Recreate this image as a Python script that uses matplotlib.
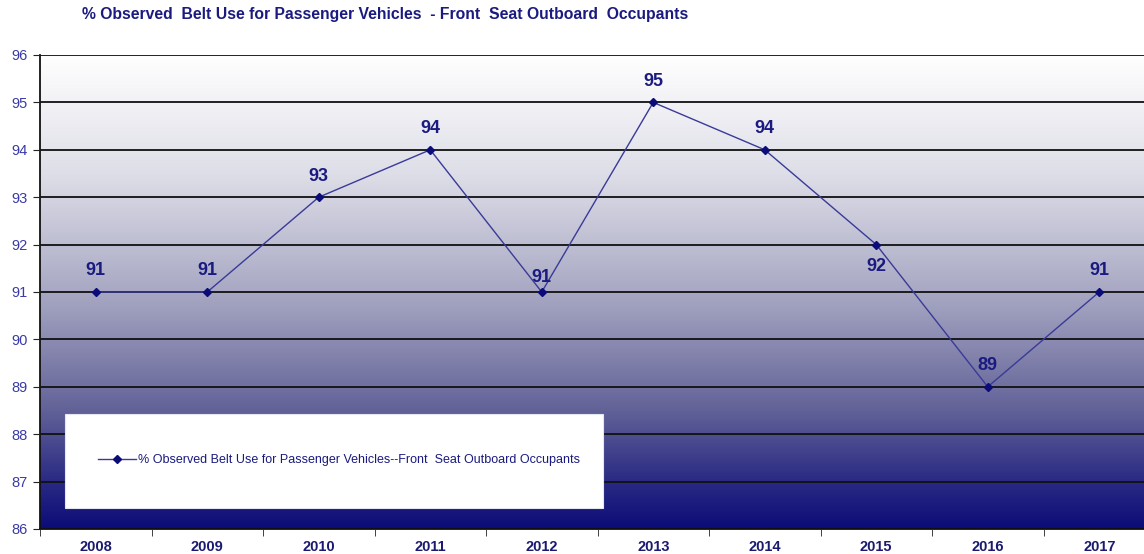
import numpy as np
import matplotlib
matplotlib.use("Agg")
import matplotlib.pyplot as plt
from matplotlib.colors import LinearSegmentedColormap
from matplotlib.patches import Rectangle

years = ["2008", "2009", "2010", "2011", "2012", "2013", "2014", "2015", "2016", "2017"]
belt_use = [91, 91, 93, 94, 91, 95, 94, 92, 89, 91]
label_below = ["2015"]

series_name = "% Observed Belt Use for Passenger Vehicles--Front  Seat Outboard Occupants"
title = "% Observed  Belt Use for Passenger Vehicles  - Front  Seat Outboard  Occupants"

NAVY = "#0c0c78"
LINE = "#3a3a98"

plt.rcParams['font.family'] = ['Liberation Sans', 'DejaVu Sans']

fig = plt.figure(figsize=(11.44, 5.54), dpi=100)
W, H = 1144, 554
ax = fig.add_axes([40 / W, (H - 529) / H, (1155 - 40) / W, (529 - 55) / H])

x = np.arange(len(years))
ax.set_xlim(-0.5, len(years) - 0.5)
ax.set_ylim(86, 96)

# gradient background: white at top -> navy at bottom
cmap = LinearSegmentedColormap.from_list(
    "bg", [(0, "#0c0c78"), (0.1, "#2a2a84"), (0.25, "#626298"), (0.5, "#a8a8c4"),
           (0.75, "#dedee8"), (1, "#ffffff")])
grad = np.linspace(0, 1, 256).reshape(-1, 1)
ax.imshow(grad, cmap=cmap, aspect="auto", origin="lower",
          extent=(-0.5, len(years) - 0.5, 86, 96), zorder=0)

ax.set_yticks(np.arange(86, 97, 1))
ax.yaxis.grid(True, color="#111111", linewidth=1.3, zorder=1)
ax.set_axisbelow(False)

line, = ax.plot(x, belt_use, color=LINE, linewidth=1.0, marker="D", markersize=4,
                markerfacecolor=NAVY, markeredgecolor=NAVY, zorder=3, label=series_name)

# data labels
for xi, yr, v in zip(x, years, belt_use):
    if yr in label_below:
        off = -22
    elif yr == "2012":
        off = 14
    else:
        off = 21
    ax.annotate(str(v), (xi, v), xytext=(0, off), textcoords="offset pixels",
                ha="center", va="center", fontsize=13, fontweight="bold", color="#1a1a80", zorder=4)

ax.set_xticks(x)
ax.set_xticklabels(years)
ax.set_xticks(np.arange(-0.5, len(years), 1), minor=True)
ax.tick_params(axis="x", which="major", length=0, pad=8, labelsize=10.5, labelcolor="#1a1a70")
ax.tick_params(axis="x", which="minor", length=5, direction="out", color="#222222")
ax.tick_params(axis="y", length=5, direction="out", labelsize=10.5, labelcolor="#3a3aa8", pad=4, color="#222222")
for lab in ax.get_xticklabels():
    lab.set_fontweight("bold")

for s in ["top", "right"]:
    ax.spines[s].set_visible(False)
ax.spines["left"].set_color("#111111")
ax.spines["bottom"].set_color("#111111")
ax.spines["left"].set_linewidth(1.3)
ax.spines["bottom"].set_linewidth(1.3)

# legend box
fig.patches.append(Rectangle((65 / W, (H - 508) / H), (603 - 65) / W, (508 - 414) / H,
                             transform=fig.transFigure, facecolor="white", edgecolor="#e6e6ee",
                             linewidth=0.8, zorder=5))
leg = fig.legend(handles=[line], loc="center left", bbox_to_anchor=(93 / W, (H - 460) / H),
                 frameon=False, fontsize=9, handlelength=3.0, handletextpad=0.2,
                 labelcolor="#1a1a80", borderaxespad=0)
leg.set_zorder(6)

fig.text(385 / W, (H - 15) / H, title, ha="center", va="center", fontsize=11.3,
         fontweight="bold", color="#1a1a80")

fig.savefig("out.png", dpi=100)
